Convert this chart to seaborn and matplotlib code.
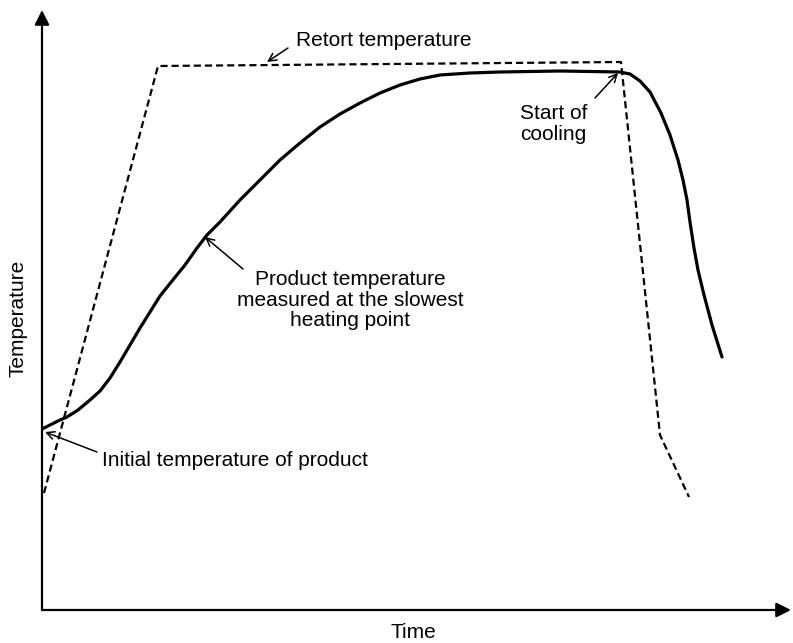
import numpy as np
import pandas as pd
import matplotlib
matplotlib.use("Agg")
import matplotlib.pyplot as plt
import seaborn as sns

# product temperature at the slowest heating point (arbitrary time / temperature units)
product_time = [0, 8, 18, 25, 36, 48, 58, 68, 78, 88, 98, 108, 118, 130, 143, 155,
                165, 178, 198, 218, 238, 258, 278, 298, 318, 338, 358, 378, 398, 428,
                458, 518, 578, 588, 598, 608, 619, 628, 636, 641, 645, 648, 652, 656,
                662, 670, 680]
product_temp = [181, 185, 190, 193, 200, 210, 219, 232, 248, 265, 282, 298, 314, 329, 345, 362,
                375, 388, 410, 430, 450, 467, 483, 496, 507, 517, 525, 531, 535, 537,
                538, 539, 538, 536, 529, 518, 497, 475, 450, 430, 410, 388, 362, 340,
                315, 285, 253]

# retort temperature profile
retort_time = [2, 116, 579, 618, 647]
retort_temp = [117, 544, 548, 175, 113]

product = pd.DataFrame({"time": product_time, "temp": product_temp})
retort = pd.DataFrame({"time": retort_time, "temp": retort_temp})

sns.set_theme(style="white")
plt.rcParams["font.family"] = ["Liberation Sans", "DejaVu Sans"]
plt.rcParams["text.color"] = "black"

fig = plt.figure(figsize=(7.93, 6.43), dpi=100)
ax = fig.add_axes([42 / 793, 33 / 643, 749 / 793, 600 / 643])
ax.set_xlim(0, 749)
ax.set_ylim(0, 600)

sns.lineplot(data=retort, x="time", y="temp", ax=ax, sort=False, estimator=None,
             color="black", lw=1.6, linestyle=(0, (3.2, 1.8)))
sns.lineplot(data=product, x="time", y="temp", ax=ax, sort=False, estimator=None,
             color="black", lw=2.3, solid_joinstyle="round", solid_capstyle="round")

# axes drawn as arrows
for s in ax.spines.values():
    s.set_visible(False)
ax.set_xticks([])
ax.set_yticks([])
ax.set_xlabel("")
ax.set_ylabel("")
axis_arrow = dict(arrowstyle="-|>", mutation_scale=22, lw=1.6, color="black",
                  shrinkA=0, shrinkB=0)
ax.annotate("", xy=(1, 0), xytext=(0, 0), xycoords="axes fraction",
            arrowprops=axis_arrow, annotation_clip=False)
ax.annotate("", xy=(0, 1), xytext=(0, 0), xycoords="axes fraction",
            arrowprops=axis_arrow, annotation_clip=False)

fs = 15
ax.text(371, -23, "Time", ha="center", va="center", fontsize=fs, clip_on=False)
ax.text(-24, 292, "Temperature", ha="center", va="center", rotation=90, fontsize=fs,
        clip_on=False)

pointer = dict(arrowstyle="->", lw=1.1, color="black", shrinkA=0, shrinkB=0,
               mutation_scale=14)
# (text, text_x, text_y, ha, tail, tip)
notes = [
    ("Retort temperature", 254, 569, "left", (246, 562), (225, 548)),
    ("Start of\ncooling", 478, 486, "left", (553, 512), (576, 537)),
    ("Product temperature\nmeasured at the slowest\nheating point", 308, 310, "center",
     (201, 341), (163, 373)),
    ("Initial temperature of product", 60, 150, "left", (55, 158), (3, 178)),
]
for label, tx, ty, ha, tail, tip in notes:
    ax.text(tx, ty, label, ha=ha, va="center", fontsize=fs, linespacing=1.08,
            multialignment="center" if ha == "center" else "left")
    ax.annotate("", xy=tip, xytext=tail, arrowprops=pointer)

fig.savefig("out.png", dpi=100, facecolor="white")
